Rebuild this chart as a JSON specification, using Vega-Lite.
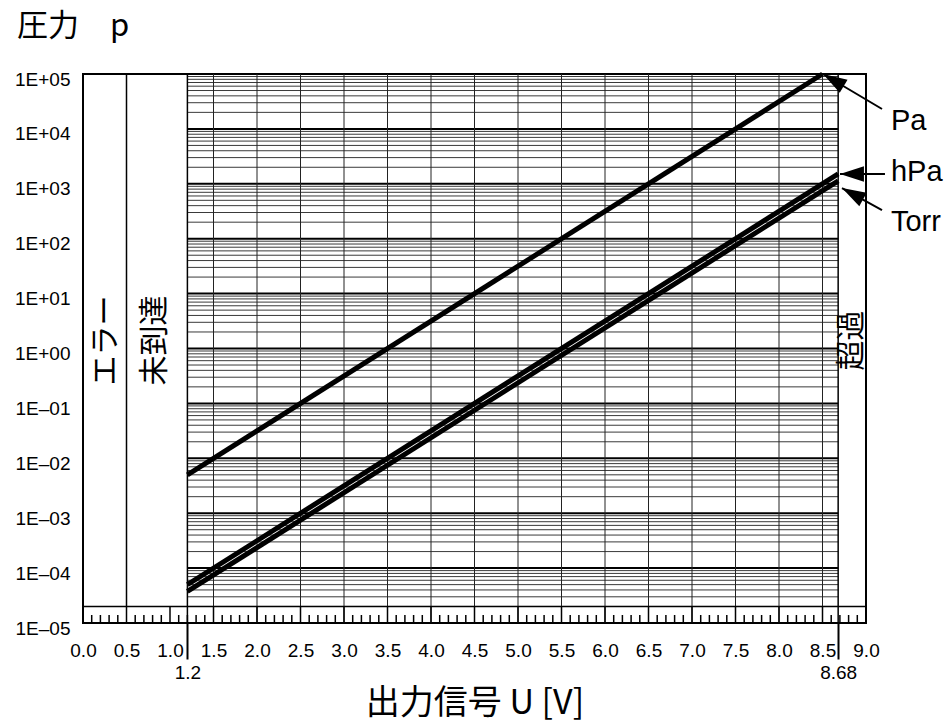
{
  "$schema": "https://vega.github.io/schema/vega-lite/v6.json",
  "width": 783,
  "height": 549,
  "autosize": {"type": "none"},
  "padding": {"left": 83, "top": 74, "right": 81, "bottom": 101},
  "background": "white",
  "title": {"text": "圧力　p", "anchor": "start", "frame": "group", "dx": -66, "offset": 21, "fontSize": 31, "font": "Noto Sans CJK JP", "fontWeight": "normal", "color": "black"},
  "config": {
    "view": {"stroke": "black", "strokeWidth": 2},
    "axis": {"labelFont": "Liberation Sans", "labelColor": "black", "labelFontSize": 19, "labelFlush": false, "labelOverlap": false, "labelBound": false}
  },
  "datasets": {
    "hminor": [
      {"p": 2e-5}, {"p": 3e-5}, {"p": 4e-5}, {"p": 5e-5}, {"p": 6e-5}, {"p": 7e-5}, {"p": 8e-5}, {"p": 9e-5},
      {"p": 2e-4}, {"p": 3e-4}, {"p": 4e-4}, {"p": 5e-4}, {"p": 6e-4}, {"p": 7e-4}, {"p": 8e-4}, {"p": 9e-4},
      {"p": 2e-3}, {"p": 3e-3}, {"p": 4e-3}, {"p": 5e-3}, {"p": 6e-3}, {"p": 7e-3}, {"p": 8e-3}, {"p": 9e-3},
      {"p": 0.02}, {"p": 0.03}, {"p": 0.04}, {"p": 0.05}, {"p": 0.06}, {"p": 0.07}, {"p": 0.08}, {"p": 0.09},
      {"p": 0.2}, {"p": 0.3}, {"p": 0.4}, {"p": 0.5}, {"p": 0.6}, {"p": 0.7}, {"p": 0.8}, {"p": 0.9},
      {"p": 2}, {"p": 3}, {"p": 4}, {"p": 5}, {"p": 6}, {"p": 7}, {"p": 8}, {"p": 9},
      {"p": 20}, {"p": 30}, {"p": 40}, {"p": 50}, {"p": 60}, {"p": 70}, {"p": 80}, {"p": 90},
      {"p": 200}, {"p": 300}, {"p": 400}, {"p": 500}, {"p": 600}, {"p": 700}, {"p": 800}, {"p": 900},
      {"p": 2000}, {"p": 3000}, {"p": 4000}, {"p": 5000}, {"p": 6000}, {"p": 7000}, {"p": 8000}, {"p": 9000},
      {"p": 20000}, {"p": 30000}, {"p": 40000}, {"p": 50000}, {"p": 60000}, {"p": 70000}, {"p": 80000}, {"p": 90000}
    ],
    "hmajor": [{"p": 1e-4}, {"p": 1e-3}, {"p": 0.01}, {"p": 0.1}, {"p": 1}, {"p": 10}, {"p": 100}, {"p": 1000}, {"p": 10000}],
    "vgrid": [{"u": 1.5}, {"u": 2.0}, {"u": 2.5}, {"u": 3.0}, {"u": 3.5}, {"u": 4.0}, {"u": 4.5}, {"u": 5.0}, {"u": 5.5}, {"u": 6.0}, {"u": 6.5}, {"u": 7.0}, {"u": 7.5}, {"u": 8.0}, {"u": 8.5}],
    "special": [{"u": 0.5, "lo": 2e-5}, {"u": 1.2, "lo": 1e-5}, {"u": 8.68, "lo": 1e-5}],
    "stickMinor": [
      {"u": 0.1}, {"u": 0.2}, {"u": 0.3}, {"u": 0.4}, {"u": 0.6}, {"u": 0.7}, {"u": 0.8}, {"u": 0.9},
      {"u": 1.1}, {"u": 1.2}, {"u": 1.3}, {"u": 1.4}, {"u": 1.6}, {"u": 1.7}, {"u": 1.8}, {"u": 1.9},
      {"u": 2.1}, {"u": 2.2}, {"u": 2.3}, {"u": 2.4}, {"u": 2.6}, {"u": 2.7}, {"u": 2.8}, {"u": 2.9},
      {"u": 3.1}, {"u": 3.2}, {"u": 3.3}, {"u": 3.4}, {"u": 3.6}, {"u": 3.7}, {"u": 3.8}, {"u": 3.9},
      {"u": 4.1}, {"u": 4.2}, {"u": 4.3}, {"u": 4.4}, {"u": 4.6}, {"u": 4.7}, {"u": 4.8}, {"u": 4.9},
      {"u": 5.1}, {"u": 5.2}, {"u": 5.3}, {"u": 5.4}, {"u": 5.6}, {"u": 5.7}, {"u": 5.8}, {"u": 5.9},
      {"u": 6.1}, {"u": 6.2}, {"u": 6.3}, {"u": 6.4}, {"u": 6.6}, {"u": 6.7}, {"u": 6.8}, {"u": 6.9},
      {"u": 7.1}, {"u": 7.2}, {"u": 7.3}, {"u": 7.4}, {"u": 7.6}, {"u": 7.7}, {"u": 7.8}, {"u": 7.9},
      {"u": 8.1}, {"u": 8.2}, {"u": 8.3}, {"u": 8.4}, {"u": 8.6}, {"u": 8.7}, {"u": 8.8}, {"u": 8.9}
    ],
    "stickMajor": [{"u": 0.5}, {"u": 1.0}, {"u": 1.5}, {"u": 2.0}, {"u": 2.5}, {"u": 3.0}, {"u": 3.5}, {"u": 4.0}, {"u": 4.5}, {"u": 5.0}, {"u": 5.5}, {"u": 6.0}, {"u": 6.5}, {"u": 7.0}, {"u": 7.5}, {"u": 8.0}, {"u": 8.5}],
    "curves": [
      {"unit": "Pa", "u": 1.2, "p": 0.005}, {"unit": "Pa", "u": 8.5, "p": 100000},
      {"unit": "hPa", "u": 1.2, "p": 5e-5}, {"unit": "hPa", "u": 8.68, "p": 1510},
      {"unit": "Torr", "u": 1.2, "p": 3.75e-5}, {"unit": "Torr", "u": 8.68, "p": 1135}
    ],
    "regions": [
      {"t": "エラー", "u": 0.27, "p": 1.4},
      {"t": "未到達", "u": 0.83, "p": 1.4},
      {"t": "超過", "u": 8.84, "p": 1.4}
    ],
    "arrows": [
      {"name": "Pa", "u": 8.506, "p": 100000, "u2": 9.184, "p2": 23040, "ang": 300.7},
      {"name": "hPa", "u": 8.701, "p": 1508, "u2": 9.218, "p2": 1508, "ang": 270},
      {"name": "Torr", "u": 8.724, "p": 838, "u2": 9.184, "p2": 333, "ang": 298.8}
    ],
    "labels": [
      {"name": "Pa", "u": 9.287, "p": 13930},
      {"name": "hPa", "u": 9.287, "p": 1641},
      {"name": "Torr", "u": 9.287, "p": 201}
    ]
  },
  "layer": [
    {
      "data": {"name": "hminor"},
      "mark": {"type": "rule", "stroke": "#3a3a3a", "strokeWidth": 1},
      "encoding": {
        "x": {"datum": 1.2, "type": "quantitative", "scale": {"domain": [0, 9], "nice": false, "zero": false}, "axis": null},
        "x2": {"datum": 8.68},
        "y": {"field": "p", "type": "quantitative", "scale": {"type": "log", "domain": [1e-5, 100000], "nice": false},
          "axis": {"orient": "left", "values": [1e-5, 1e-4, 1e-3, 0.01, 0.1, 1, 10, 100, 1000, 10000, 100000],
            "labelExpr": "'1E' + (log(datum.value)/LN10 > -0.5 ? '+' : '–') + '0' + abs(round(log(datum.value)/LN10))",
            "ticks": false, "domain": false, "grid": false, "labelPadding": 13, "labelOffset": 5, "title": null}}
      }
    },
    {
      "data": {"name": "hmajor"},
      "mark": {"type": "rule", "stroke": "black", "strokeWidth": 2},
      "encoding": {
        "x": {"datum": 1.2, "type": "quantitative", "axis": null},
        "x2": {"datum": 8.68},
        "y": {"field": "p", "type": "quantitative", "axis": null}
      }
    },
    {
      "data": {"name": "vgrid"},
      "mark": {"type": "rule", "stroke": "#222222", "strokeWidth": 1},
      "encoding": {
        "x": {"field": "u", "type": "quantitative",
          "axis": {"orient": "bottom", "values": [0, 0.5, 1, 1.5, 2, 2.5, 3, 3.5, 4, 4.5, 5, 5.5, 6, 6.5, 7, 7.5, 8, 8.5, 9],
            "format": ".1f", "ticks": false, "domain": false, "grid": false, "labelPadding": 18,
            "title": "出力信号 U [V]", "titleFont": "Noto Sans CJK JP", "titleFontSize": 34, "titleFontWeight": "normal", "titleColor": "black", "titlePadding": 26}},
        "y": {"datum": 1e-5, "type": "quantitative", "axis": null},
        "y2": {"datum": 100000}
      }
    },
    {
      "data": {"name": "special"},
      "mark": {"type": "rule", "stroke": "black", "strokeWidth": 1.5},
      "encoding": {
        "x": {"field": "u", "type": "quantitative",
          "axis": {"orient": "bottom", "values": [1.2, 8.68], "labelExpr": "'' + datum.value", "tickSize": 36, "tickWidth": 2, "tickColor": "black",
            "domain": false, "grid": false, "labelPadding": 4, "title": null}},
        "y": {"field": "lo", "type": "quantitative", "axis": null},
        "y2": {"datum": 100000}
      }
    },
    {
      "data": {"values": [{"p": 2e-5}]},
      "mark": {"type": "rule", "stroke": "black", "strokeWidth": 1.5},
      "encoding": {
        "x": {"datum": 0, "type": "quantitative", "axis": null},
        "x2": {"datum": 9},
        "y": {"field": "p", "type": "quantitative", "axis": null}
      }
    },
    {
      "data": {"name": "stickMinor"},
      "mark": {"type": "rule", "stroke": "black", "strokeWidth": 1.5},
      "encoding": {
        "x": {"field": "u", "type": "quantitative", "axis": null},
        "y": {"datum": 1e-5, "type": "quantitative", "axis": null},
        "y2": {"datum": 1.4e-5}
      }
    },
    {
      "data": {"name": "stickMajor"},
      "mark": {"type": "rule", "stroke": "black", "strokeWidth": 1.5},
      "encoding": {
        "x": {"field": "u", "type": "quantitative", "axis": null},
        "y": {"datum": 1e-5, "type": "quantitative", "axis": null},
        "y2": {"datum": 2e-5}
      }
    },
    {
      "data": {"name": "curves"},
      "mark": {"type": "line", "stroke": "black", "strokeWidth": 5},
      "encoding": {
        "x": {"field": "u", "type": "quantitative", "axis": null},
        "y": {"field": "p", "type": "quantitative", "axis": null},
        "detail": {"field": "unit"}
      }
    },
    {
      "data": {"name": "regions"},
      "mark": {"type": "text", "angle": 270, "align": "center", "baseline": "middle", "font": "Noto Sans CJK JP", "fontSize": 30, "color": "black"},
      "encoding": {
        "x": {"field": "u", "type": "quantitative", "axis": null},
        "y": {"field": "p", "type": "quantitative", "axis": null},
        "text": {"field": "t"}
      }
    },
    {
      "data": {"name": "arrows"},
      "mark": {"type": "rule", "stroke": "black", "strokeWidth": 2},
      "encoding": {
        "x": {"field": "u", "type": "quantitative", "axis": null},
        "y": {"field": "p", "type": "quantitative", "axis": null},
        "x2": {"field": "u2"},
        "y2": {"field": "p2"}
      }
    },
    {
      "data": {"name": "arrows"},
      "mark": {"type": "point", "filled": true, "fill": "black", "stroke": null, "opacity": 1, "shape": "M0,0L-0.32,1L0.32,1Z", "size": 2300},
      "encoding": {
        "x": {"field": "u", "type": "quantitative", "axis": null},
        "y": {"field": "p", "type": "quantitative", "axis": null},
        "angle": {"field": "ang", "type": "quantitative", "scale": null}
      }
    },
    {
      "data": {"name": "labels"},
      "mark": {"type": "text", "align": "left", "baseline": "middle", "font": "Liberation Sans", "fontSize": 29, "color": "black"},
      "encoding": {
        "x": {"field": "u", "type": "quantitative", "axis": null},
        "y": {"field": "p", "type": "quantitative", "axis": null},
        "text": {"field": "name"}
      }
    }
  ],
  "resolve": {"axis": {"x": "independent", "y": "independent"}}
}
